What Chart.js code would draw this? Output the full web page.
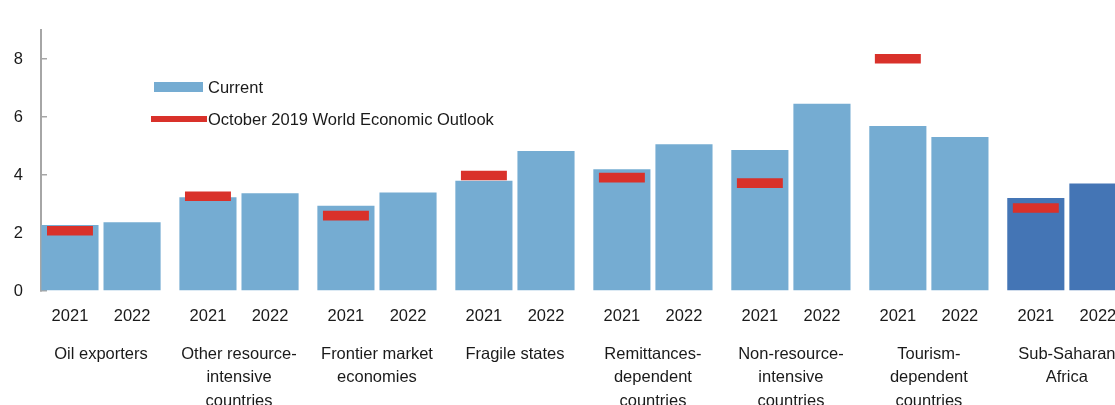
<!DOCTYPE html>
<html><head><meta charset="utf-8">
<script src="https://cdn.jsdelivr.net/npm/chart.js@4.4.1/dist/chart.umd.min.js"></script>
<style>
html,body{margin:0;padding:0;background:#fff;overflow:hidden;width:1115px;height:405px;}
#wrap{position:relative;width:1160px;height:417px;}
canvas{position:absolute;left:0;top:0;}
.lg{position:absolute;font-family:"Liberation Sans",Arial,sans-serif;font-size:16.5px;color:#1a1a1a;line-height:20px;white-space:nowrap;}
.sw{position:absolute;}
</style></head><body>
<div id="wrap">
<canvas id="c" width="1160" height="417"></canvas>
<div class="sw" style="left:154px;top:82px;width:49px;height:10px;background:#75acd2"></div>
<div class="lg" style="left:208px;top:77px">Current</div>
<div class="sw" style="left:151px;top:116px;width:56px;height:6px;background:#d9312a"></div>
<div class="lg" style="left:208px;top:109px">October 2019 World Economic Outlook</div>
</div>
<script>
const groupLabels = [
  ['Oil exporters'],
  ['Other resource-', 'intensive', 'countries'],
  ['Frontier market', 'economies'],
  ['Fragile states'],
  ['Remittances-', 'dependent', 'countries'],
  ['Non-resource-', 'intensive', 'countries'],
  ['Tourism-', 'dependent', 'countries'],
  ['Sub-Saharan', 'Africa']
];
const yearLabels = ['2021', '2022'];
const current2021 = [2.28, 3.23, 2.94, 3.80, 4.20, 4.86, 5.69, 3.21];
const current2022 = [2.37, 3.37, 3.40, 4.83, 5.06, 6.46, 5.31, 3.71];
const weo2021 = [2.08, 3.27, 2.60, 3.98, 3.91, 3.72, 8.01, 2.86];
const yTicks = [0, 2, 4, 6, 8];

const LIGHT = '#75acd2', DARK = '#4475b5', RED = '#d9312a', AXIS = '#a6a6a6', TEXT = '#1a1a1a';
const CP = 0.9;          // category percentage
const MARK_HALF = 0.165; // half thickness of the WEO marker (value units)
const X_MIN = -0.435, X_MAX = 7.675;
const barColor = groupLabels.map((g, i) => i === groupLabels.length - 1 ? DARK : LIGHT);
const yearTickValues = groupLabels.flatMap((g, i) => [i - CP / 4, i + CP / 4]);

Chart.defaults.font.family = '"Liberation Sans", Arial, sans-serif';
Chart.defaults.font.size = 16.5;
Chart.defaults.color = TEXT;

new Chart(document.getElementById('c'), {
  type: 'bar',
  data: {
    datasets: [
      { label: 'October 2019 World Economic Outlook', data: weo2021.map((v, i) => ({ x: i, y: [v - MARK_HALF, v + MARK_HALF] })),
        backgroundColor: RED, stack: 'y2021', categoryPercentage: CP, barPercentage: 0.74, order: 0 },
      { label: 'Current 2021', data: current2021.map((v, i) => ({ x: i, y: v })),
        backgroundColor: barColor, stack: 'y2021', categoryPercentage: CP, barPercentage: 0.92, order: 1 },
      { label: 'Current 2022', data: current2022.map((v, i) => ({ x: i, y: v })),
        backgroundColor: barColor, stack: 'y2022', categoryPercentage: CP, barPercentage: 0.92, order: 1 }
    ]
  },
  options: {
    responsive: false,
    animation: false,
    layout: { padding: { top: 30, left: 0, right: 0, bottom: 0 } },
    plugins: { legend: { display: false }, tooltip: { enabled: false } },
    scales: {
      x: {
        type: 'linear', position: 'bottom', min: X_MIN, max: X_MAX, offset: false, weight: 1,
        grid: { display: false }, border: { display: false },
        afterBuildTicks: s => { s.ticks = groupLabels.map((g, i) => ({ value: i })); },
        afterFit: s => { s.height = 83; },
        ticks: { autoSkip: false, maxRotation: 0, minRotation: 0, padding: 0,
          font: { size: 16.5, lineHeight: 1.45 }, callback: (v, i) => groupLabels[i] }
      },
      x2: {
        type: 'linear', position: 'bottom', min: X_MIN, max: X_MAX, offset: false, weight: 0,
        grid: { display: false }, border: { display: false },
        afterBuildTicks: s => { s.ticks = yearTickValues.map(v => ({ value: v })); },
        afterFit: s => { s.height = 43; },
        ticks: { autoSkip: false, maxRotation: 0, minRotation: 0, padding: 8,
          font: { size: 16.5, lineHeight: 1.2 }, callback: (v, i) => yearLabels[i % 2] }
      },
      y: {
        min: 0, max: 9, stacked: false,
        afterBuildTicks: s => { s.ticks = yTicks.map(v => ({ value: v })); },
        afterFit: s => { s.width = 41; s.paddingTop = 0; s.paddingBottom = 0; },
        grid: { display: true, drawOnChartArea: false, drawTicks: true, tickLength: -6, color: AXIS, lineWidth: 1.5 },
        border: { display: true, color: AXIS, width: 2 },
        ticks: { padding: 24, font: { size: 16.5 } }
      }
    }
  }
});
</script>
</body></html>
